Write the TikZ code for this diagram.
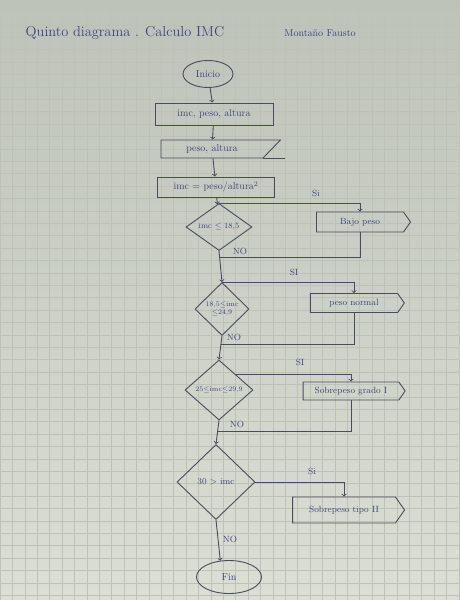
\documentclass[tikz,border=0pt]{standalone}
\usepackage{amsmath,amssymb}
\usepackage{xcolor}
\usepackage{tikz}
\usetikzlibrary{shapes, shapes.geometric, shapes.symbols, calc, arrows}

\definecolor{paperdark}{RGB}{190,195,186}
\definecolor{paperlight}{RGB}{218,222,211}
\definecolor{gridline}{RGB}{188,194,182}
\definecolor{pen}{RGB}{60,68,130}
\definecolor{ink}{RGB}{72,76,96}

\begin{document}
\begin{tikzpicture}[x=1pt, y=-1pt, >=to, line width=0.9pt]
		\tikzstyle{terminal}=[draw=ink, ellipse, inner sep=0pt, text=pen]
		\tikzstyle{process}=[draw=ink, rectangle, inner sep=1pt, text=pen]
		\tikzstyle{manual}=[draw=ink, trapezium, trapezium left angle=90, trapezium right angle=130, trapezium stretches=true, inner sep=1pt, text=pen]
		\tikzstyle{decision}=[draw=ink, diamond, inner sep=-8pt, text=pen, font=\footnotesize]
		\tikzstyle{display}=[draw=ink, signal, signal to=east, signal pointer angle=110, inner sep=1pt, text=pen, font=\small]
		\tikzstyle{flow}=[draw=ink]
		\tikzstyle{tag}=[text=pen, font=\small]
		
		% paper
		\useasboundingbox (0,0) rectangle (459,600);
		\shade[top color=paperdark, bottom color=paperlight] (0,0) rectangle (459,600);
		\foreach \g in {0,12.4,...,459} \draw[gridline, line width=0.4pt] (\g,0) -- (\g,600);
		\foreach \g in {0,12.4,...,600} \draw[gridline, line width=0.4pt] (0,\g) -- (459,\g);
		
		% heading
		\node (title) at (125,33) [text=pen, font=\Large] {Quinto diagrama . Calculo IMC};
		\node (author) at (320,33) [text=pen] {Montaño Fausto};
		
		% main column
		\node (ini) at (208,74) [terminal, minimum width=50, minimum height=27] {Inicio};
		\node (dat) at (214,114) [process, minimum width=118, minimum height=22] {imc, peso, altura};
		\node (inp) at (212,149) [manual, minimum width=120, minimum height=18] {peso, altura};
		\node (cal) at (216,187) [process, minimum width=117, minimum height=20] {imc = peso/altura$^2$};
		\node (d1) at (219,227) [decision, minimum width=66, minimum height=47] {imc $\leq$ 18,5};
		\node (d2) at (222,309) [decision, minimum width=54, minimum height=53, font=\scriptsize, align=center] {18,5$\leq$imc\\$\leq$24,9};
		\node (d3) at (219,390) [decision, minimum width=68, minimum height=60, font=\scriptsize] {25$\leq$imc$\leq$29,9};
		\node (d4) at (216,482) [decision, minimum width=78, minimum height=75, font=\small] {30 $>$ imc};
		\node (fin) at (229,577) [terminal, minimum width=65, minimum height=33] {Fin};
		
		% outputs
		\node (bajo) at (360,222) [display, minimum width=94, minimum height=20] {Bajo peso};
		\node (normal) at (354,303) [display, minimum width=94, minimum height=19] {peso normal};
		\node (grado) at (351,391) [display, minimum width=102, minimum height=18] {Sobrepeso grado I};
		\node (tipo) at (344,510) [display, minimum width=112, minimum height=26] {Sobrepeso tipo II};
		
		% joins on the main line
		\coordinate (j1) at (219,257);
		\coordinate (j2) at (221,344);
		\coordinate (j3) at (218,431);
		
		\draw [->, flow] (ini) -- (dat);
		\draw [->, flow] (dat) -- (inp);
		\draw [->, flow] (inp) -- (cal);
		\draw [->, flow] (cal) -- (d1);
		\draw [flow] (inp.bottom right corner) -- ++(22,0);
		
		\draw [->, flow] (d1.north) -| (bajo.north);
		\draw [flow] (bajo.south) |- (j1);
		\draw [->, flow] (d1.south) -- (d2.north);
		
		\draw [->, flow] (d2.north) -| (normal.north);
		\draw [flow] (normal.south) |- (j2);
		\draw [->, flow] (d2.south) -- (d3.north);
		
		\draw [->, flow] (d3.north east) -| (grado.north);
		\draw [flow] (grado.south) |- (j3);
		\draw [->, flow] (d3.south) -- (d4.north);
		
		\draw [->, flow] (d4.east) -| (tipo.north);
		\draw [->, flow] (d4.south) -- (fin.118);
		
		% branch labels
		\node [tag] at (316,193) {Si};
		\node [tag] at (240,251) {NO};
		\node [tag] at (294,272) {SI};
		\node [tag] at (234,337) {NO};
		\node [tag] at (300,362) {SI};
		\node [tag] at (237,424) {NO};
		\node [tag] at (312,471) {Si};
		\node [tag] at (230,539) {NO};
		\end{tikzpicture}
\end{document}
